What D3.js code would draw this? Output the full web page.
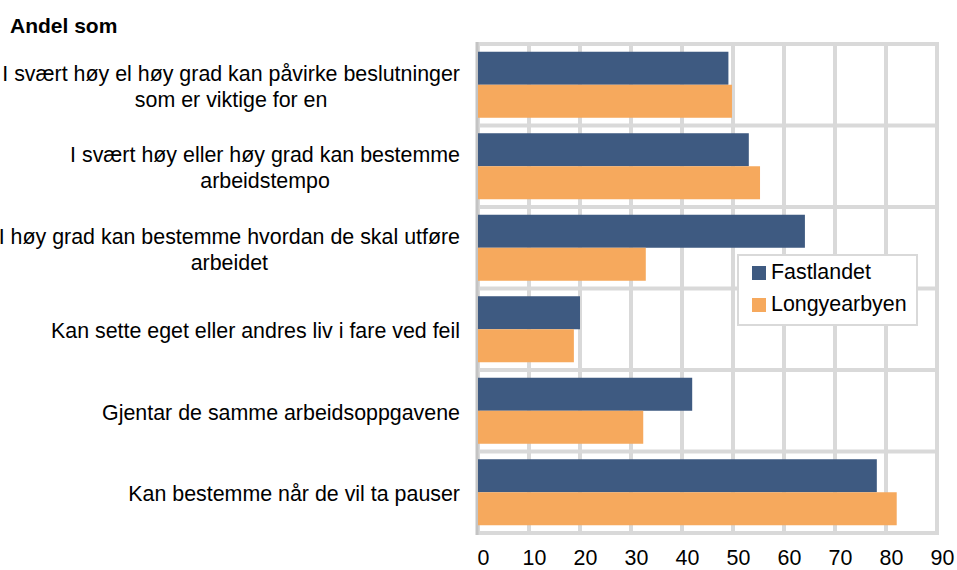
<!DOCTYPE html>
<html>
<head>
<meta charset="utf-8">
<script src="https://cdn.jsdelivr.net/npm/d3@7"></script>
<style>
  body { margin: 0; background: #fff; }
  svg { display: block; font-family: "Liberation Sans", Arial, sans-serif; }
</style>
</head>
<body>
<div id="chart"></div>
<script>
var categories = [
  ["I svært høy el høy grad kan påvirke beslutninger", "som er viktige for en"],
  ["I svært høy eller høy grad kan bestemme", "arbeidstempo"],
  ["I høy grad kan bestemme hvordan de skal utføre", "arbeidet"],
  ["Kan sette eget eller andres liv i fare ved feil"],
  ["Gjentar de samme arbeidsoppgavene"],
  ["Kan bestemme når de vil ta pauser"]
];
var seriesNames = ["Fastlandet", "Longyearbyen"];
var fastlandet = [49.1, 53.1, 64.1, 20.0, 42.0, 78.2];
var longyearbyen = [49.8, 55.3, 32.9, 18.8, 32.4, 82.1];
var xTicks = [0, 10, 20, 30, 40, 50, 60, 70, 80, 90];
var colors = ["#3e5a81", "#f6a95d"];

var width = 957, height = 570;
var plot = { left: 478, right: 937, top: 44, bottom: 533 };
var grid = "#d9d9d9";
var fontSize = "21.4px";

var svg = d3.select("#chart").append("svg").attr("width", width).attr("height", height);

var x = d3.scaleLinear().domain([0, 90]).range([plot.left, plot.right]);
var y = d3.scaleBand().domain(d3.range(categories.length)).range([plot.top, plot.bottom]).paddingInner(0.19).paddingOuter(0.095);
var sub = d3.scaleBand().domain([0, 1]).range([0, y.bandwidth()]);

// grid: vertical lines at ticks, horizontal lines between categories
svg.append("g").selectAll("line").data(xTicks).join("line")
  .attr("x1", function(d) { return x(d); }).attr("x2", function(d) { return x(d); })
  .attr("y1", plot.top).attr("y2", plot.bottom)
  .attr("stroke", grid).attr("stroke-width", 4);

var bounds = d3.range(categories.length + 1).map(function(i) { return plot.top + i * y.step(); });
svg.append("g").selectAll("line").data(bounds).join("line")
  .attr("x1", plot.left - 2).attr("x2", plot.right + 2)
  .attr("y1", function(d) { return d; }).attr("y2", function(d) { return d; })
  .attr("stroke", grid).attr("stroke-width", 4);

svg.append("line").attr("x1", plot.left - 1).attr("x2", plot.left - 1)
  .attr("y1", plot.top - 2).attr("y2", plot.bottom + 2)
  .attr("stroke", "#c4c4c4").attr("stroke-width", 3);

// bars
var series = [fastlandet, longyearbyen];
series.forEach(function(vals, s) {
  svg.append("g").selectAll("rect").data(vals).join("rect")
    .attr("x", x(0))
    .attr("y", function(d, i) { return y(i) + sub(s); })
    .attr("width", function(d) { return x(d) - x(0); })
    .attr("height", sub.bandwidth())
    .attr("fill", colors[s]);
});

// category labels: block right-aligned, lines centred inside block
var labelRight = 460, lineH = 26;
categories.forEach(function(lines, i) {
  var g = svg.append("g").style("font-size", fontSize).attr("fill", "#000");
  var cy = y(i) + y.bandwidth() / 2 + 1.5;
  var texts = lines.map(function(t, j) {
    return g.append("text").attr("y", cy + (j - (lines.length - 1) / 2) * lineH).attr("dy", "0.35em").attr("text-anchor", "middle").text(t);
  });
  var maxW = d3.max(texts, function(t) { return t.node().getComputedTextLength(); });
  texts.forEach(function(t) { t.attr("x", labelRight - maxW / 2); });
});

// x tick labels
svg.append("g").selectAll("text").data(xTicks).join("text")
  .attr("x", function(d) { return x(d) + 5.5; })
  .attr("y", 565)
  .attr("text-anchor", "middle")
  .style("font-size", fontSize)
  .text(function(d) { return d; });

// title
svg.append("text").attr("x", 10).attr("y", 33).style("font-size", "21px").style("font-weight", "bold").text("Andel som");

// legend
var legend = svg.append("g").attr("transform", "translate(738,255)");
legend.append("rect").attr("width", 179).attr("height", 70).attr("fill", "#fff").attr("stroke", grid).attr("stroke-width", 2);
seriesNames.forEach(function(name, i) {
  legend.append("rect").attr("x", 14).attr("y", 11 + i * 32).attr("width", 14).attr("height", 14).attr("fill", colors[i]);
  legend.append("text").attr("x", 33).attr("y", 24 + i * 32).style("font-size", fontSize).text(name);
});
</script>
</body>
</html>
